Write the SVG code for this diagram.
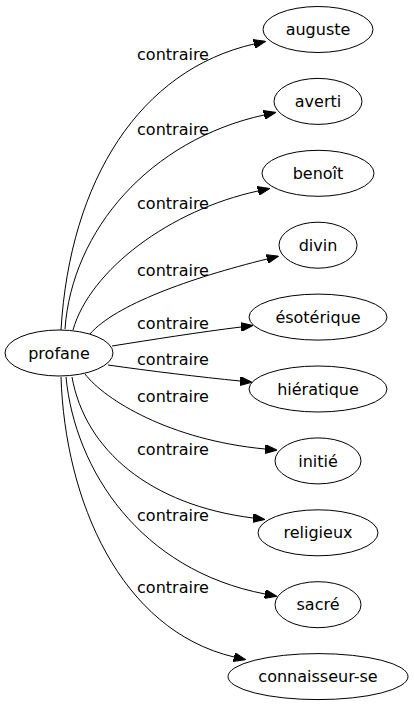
<svg xmlns="http://www.w3.org/2000/svg" width="414" height="707" viewBox="0 0 414 707">
<defs>
<style>
.n ellipse{fill:none;stroke:#000;stroke-width:1}
text{font-family:"DejaVu Sans",sans-serif;font-size:16px;fill:#000;text-anchor:middle}
.e path{fill:none;stroke:#000;stroke-width:1;marker-end:url(#ah)}
</style>
<marker id="ah" markerUnits="userSpaceOnUse" viewBox="0 0 12 9" markerWidth="12" markerHeight="9" refX="0" refY="4.5" orient="auto">
<path d="M0,0 L12,4.5 L0,9 z" fill="#000" stroke="#000" stroke-width="1"/>
</marker>
</defs>
<rect width="414" height="707" fill="#fff"/>
<g id="edges" class="e">
<path d="M61,330 C70,180 140,70 254,44"/>
<path d="M65,329 C72,230 150,140 264,115"/>
<path d="M73,330 C90,270 170,210 258,191"/>
<path d="M90,334 C115,305 190,278 267,259"/>
<path d="M112,346 C150,340 200,332 241,327"/>
<path d="M108,365 C150,371 200,377 240,381"/>
<path d="M85,374 C105,400 170,440 265,449"/>
<path d="M72,377 C85,450 150,505 253,518"/>
<path d="M66,377 C75,470 140,570 265,594"/>
<path d="M61,377 C65,500 120,630 234,657"/>
</g>
<g id="labels">
<text x="173" y="60">contraire</text>
<text x="173" y="135">contraire</text>
<text x="173" y="209">contraire</text>
<text x="173" y="276">contraire</text>
<text x="173" y="329">contraire</text>
<text x="173" y="365">contraire</text>
<text x="173" y="402">contraire</text>
<text x="173" y="455">contraire</text>
<text x="173" y="521">contraire</text>
<text x="173" y="593">contraire</text>
</g>
<g id="profane" class="n"><ellipse cx="59" cy="353" rx="54" ry="23"/><text x="59" y="359">profane</text></g>
<g id="auguste" class="n"><ellipse cx="318" cy="29.5" rx="55" ry="23"/><text x="318" y="35">auguste</text></g>
<g id="averti" class="n"><ellipse cx="318" cy="101.4" rx="44" ry="23"/><text x="318" y="107">averti</text></g>
<g id="benoit" class="n"><ellipse cx="318" cy="173.3" rx="56" ry="23"/><text x="318" y="179">benoît</text></g>
<g id="divin" class="n"><ellipse cx="318" cy="245.2" rx="39" ry="23"/><text x="318" y="251">divin</text></g>
<g id="esoterique" class="n"><ellipse cx="318" cy="317.1" rx="69" ry="23"/><text x="318" y="323">ésotérique</text></g>
<g id="hieratique" class="n"><ellipse cx="318" cy="389" rx="69" ry="23"/><text x="318" y="395">hiératique</text></g>
<g id="initie" class="n"><ellipse cx="318" cy="460.9" rx="43" ry="23"/><text x="318" y="467">initié</text></g>
<g id="religieux" class="n"><ellipse cx="318" cy="532.8" rx="60" ry="23"/><text x="318" y="538">religieux</text></g>
<g id="sacre" class="n"><ellipse cx="318" cy="604.7" rx="43" ry="23"/><text x="318" y="610">sacré</text></g>
<g id="connaisseur-se" class="n"><ellipse cx="318" cy="676.6" rx="90" ry="23"/><text x="318" y="682">connaisseur-se</text></g>
</svg>
